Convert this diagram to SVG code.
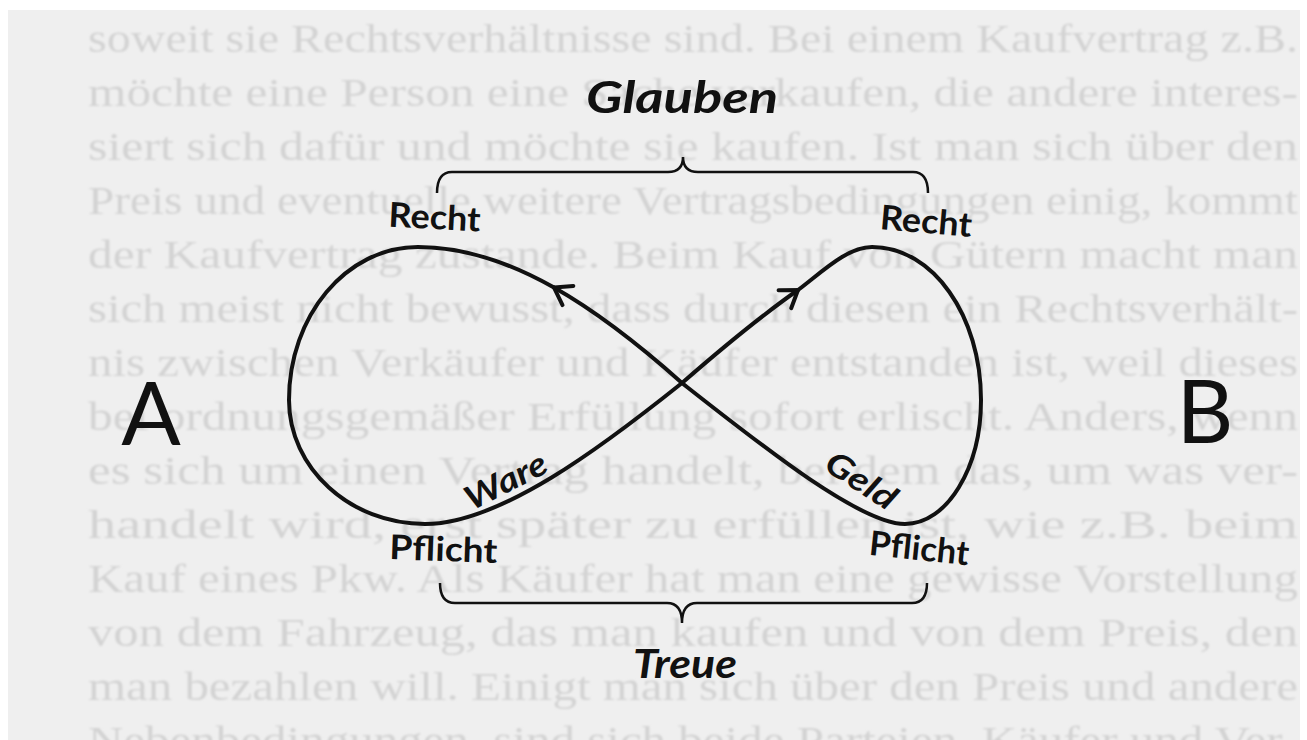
<svg xmlns="http://www.w3.org/2000/svg" width="1307" height="740" viewBox="0 0 1307 740">
<style>
.bg{font-family:"Liberation Serif",serif;font-size:40px;fill:#d3d3d3}
.lbl{font-family:Lato,"Open Sans",sans-serif;font-weight:bold;fill:#111}
.it{font-style:italic}
.big{font-family:Lato,"Open Sans",sans-serif;font-size:88px;fill:#111}
.loop{fill:none;stroke:#111;stroke-width:4;stroke-linecap:round}
.brace{fill:none;stroke:#111;stroke-width:2.5}
</style>
<defs>
<filter id="soft" x="-5%" y="-50%" width="110%" height="200%"><feGaussianBlur stdDeviation="1.1"/></filter>
<marker id="chev" markerUnits="userSpaceOnUse" markerWidth="40" markerHeight="40" viewBox="-30 -20 40 40" refX="0" refY="0" orient="auto">
<path d="M-16,-11 L0,0 L-16,11" fill="none" stroke="#111" stroke-width="4" stroke-linecap="round" stroke-linejoin="miter"/>
</marker>
</defs>
<rect width="1307" height="740" fill="#ffffff"/>
<rect x="8" y="10" width="1292" height="730" fill="#efefef"/>
<g id="page-text" class="bg" filter="url(#soft)">
<text x="88" y="52" textLength="1210" lengthAdjust="spacingAndGlyphs">soweit sie Rechtsverhältnisse sind. Bei einem Kaufvertrag z.B.</text>
<text x="88" y="106" textLength="1210" lengthAdjust="spacingAndGlyphs">möchte eine Person eine Sache verkaufen, die andere interes-</text>
<text x="88" y="160" textLength="1210" lengthAdjust="spacingAndGlyphs">siert sich dafür und möchte sie kaufen. Ist man sich über den</text>
<text x="88" y="214" textLength="1210" lengthAdjust="spacingAndGlyphs">Preis und eventuelle weitere Vertragsbedingungen einig, kommt</text>
<text x="88" y="268" textLength="1210" lengthAdjust="spacingAndGlyphs">der Kaufvertrag zustande. Beim Kauf von Gütern macht man</text>
<text x="88" y="322" textLength="1210" lengthAdjust="spacingAndGlyphs">sich meist nicht bewusst, dass durch diesen ein Rechtsverhält-</text>
<text x="88" y="376" textLength="1210" lengthAdjust="spacingAndGlyphs">nis zwischen Verkäufer und Käufer entstanden ist, weil dieses</text>
<text x="88" y="430" textLength="1210" lengthAdjust="spacingAndGlyphs">bei ordnungsgemäßer Erfüllung sofort erlischt. Anders, wenn</text>
<text x="88" y="484" textLength="1210" lengthAdjust="spacingAndGlyphs">es sich um einen Vertrag handelt, bei dem das, um was ver-</text>
<text x="88" y="538" textLength="1210" lengthAdjust="spacingAndGlyphs">handelt wird, erst später zu erfüllen ist, wie z.B. beim</text>
<text x="88" y="592" textLength="1210" lengthAdjust="spacingAndGlyphs">Kauf eines Pkw. Als Käufer hat man eine gewisse Vorstellung</text>
<text x="88" y="646" textLength="1210" lengthAdjust="spacingAndGlyphs">von dem Fahrzeug, das man kaufen und von dem Preis, den</text>
<text x="88" y="700" textLength="1210" lengthAdjust="spacingAndGlyphs">man bezahlen will. Einigt man sich über den Preis und andere</text>
<text x="88" y="754" textLength="1210" lengthAdjust="spacingAndGlyphs">Nebenbedingungen, sind sich beide Parteien, Käufer und Ver-</text>
</g>
<g id="connectors">
<path class="loop" d="M682,383 C641,346.5 598,312.5 554,287.6" marker-end="url(#chev)"/>
<path class="loop" d="M554,287.6 C510,262.75 465,247 418,247 C346,247 289,316 289,400 C289,468 350,524 425,524 C500,524 602,447 682,383"/>
<path class="loop" d="M682,383 C721,349 758,318 798,290" marker-end="url(#chev)"/>
<path class="loop" d="M798,290 C822,272 847,247 872,247 C933,247 981,316 981,400 C981,468 947,524 905,524 C860,524 762,446 682,383"/>
<path id="brace-top" class="brace" d="M437,193 Q437,172 452,172 L668,172 Q683,172 683,157 Q683,172 698,172 L913,172 Q928,172 928,193"/>
<path id="brace-bottom" class="brace" d="M440,583 Q440,603 455,603 L667,603 Q682,603 682,623 Q682,603 697,603 L912,603 Q927,603 927,583"/>
</g>
<g id="glauben"><text class="lbl it" x="682" y="113" font-size="44" text-anchor="middle" textLength="192" lengthAdjust="spacingAndGlyphs">Glauben</text></g>
<g id="treue"><text class="lbl it" x="685" y="678" font-size="40" text-anchor="middle" textLength="104" lengthAdjust="spacingAndGlyphs">Treue</text></g>
<g id="recht-left"><text class="lbl" x="434" y="229" font-size="34" text-anchor="middle" textLength="92" lengthAdjust="spacingAndGlyphs" transform="rotate(3 434 229)">Recht</text></g>
<g id="recht-right"><text class="lbl" x="925" y="233" font-size="34" text-anchor="middle" textLength="92" lengthAdjust="spacingAndGlyphs" transform="rotate(5 925 233)">Recht</text></g>
<g id="pflicht-left"><text class="lbl" x="443" y="561" font-size="34" text-anchor="middle" textLength="108" lengthAdjust="spacingAndGlyphs" transform="rotate(2 443 561)">Pflicht</text></g>
<g id="pflicht-right"><text class="lbl" x="918" y="560" font-size="34" text-anchor="middle" textLength="100" lengthAdjust="spacingAndGlyphs" transform="rotate(6 918 560)">Pflicht</text></g>
<g id="ware"><text class="lbl it" x="511" y="491" font-size="33" text-anchor="middle" textLength="88" lengthAdjust="spacingAndGlyphs" transform="rotate(-27 511 491)">Ware</text></g>
<g id="geld"><text class="lbl it" x="855" y="490" font-size="33" text-anchor="middle" textLength="78" lengthAdjust="spacingAndGlyphs" transform="rotate(33 855 490)">Geld</text></g>
<g id="node-a"><text class="big" x="151" y="445" text-anchor="middle">A</text></g>
<g id="node-b"><text class="big" x="1205" y="443" text-anchor="middle">B</text></g>
</svg>
